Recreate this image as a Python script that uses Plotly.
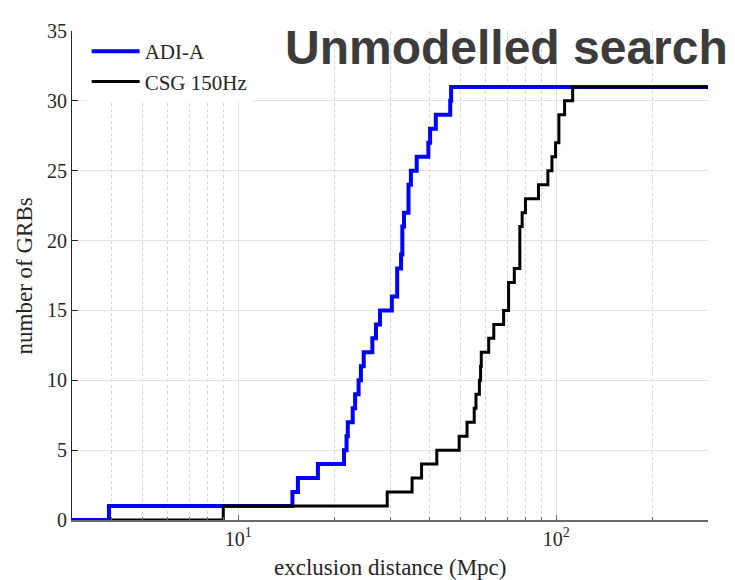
import plotly.graph_objects as go

# ADI-A cumulative steps (exclusion distance in Mpc, number of GRBs)
adi_x = [3.0, 3.92, 14.8, 15.4, 17.8, 21.5, 21.9, 22.1, 22.9, 23.3, 23.9, 24.3, 24.8,
         26.4, 27.1, 27.9, 30.4, 31.6, 32.5, 32.8, 33.2, 34.3, 34.9, 36.4, 39.6,
         40.1, 41.8, 46.4, 46.7, 300]
adi_y = [0, 1, 2, 3, 4, 5, 6, 7, 8, 9, 10, 11, 12, 13, 14, 15, 16, 18, 19, 21, 22,
         24, 25, 26, 27, 28, 29, 30, 31, 31]

# CSG 150Hz cumulative steps
csg_x = [3.92, 8.97, 29.4, 35.2, 37.7, 42.1, 49.5, 52.4, 55.2, 55.9, 57.3, 57.8, 58.1,
         61.3, 63.6, 68.3, 70.8, 73.8, 76.8, 78.1, 80.0, 87.9, 94.1, 96.9, 99.5,
         101.9, 106.2, 112.6, 300]
csg_y = [0, 1, 2, 3, 4, 5, 6, 7, 8, 9, 10, 11, 12, 13, 14, 15, 17, 18, 21, 22, 23,
         24, 25, 26, 27, 29, 30, 31, 31]

x_tickvals = [10, 100]
x_ticktext = ["10<sup>1</sup>", "10<sup>2</sup>"]
y_tickvals = [0, 5, 10, 15, 20, 25, 30, 35]

serif = "Liberation Serif"

fig = go.Figure()
fig.add_trace(go.Scatter(x=adi_x, y=adi_y, mode="lines", name="ADI-A",
                         line=dict(color="#0000ff", width=4, shape="hv")))
fig.add_trace(go.Scatter(x=csg_x, y=csg_y, mode="lines", name="CSG 150Hz",
                         line=dict(color="#000000", width=3, shape="hv")))

fig.update_layout(
    width=727, height=572,
    margin=dict(l=64, r=27, t=12, b=60),
    paper_bgcolor="white", plot_bgcolor="white",
    font=dict(family=serif, size=20, color="#262626"),
    showlegend=True,
    legend=dict(x=0.023, y=1.0, xanchor="left", yanchor="top",
                bgcolor="white", borderwidth=0, font=dict(size=21, color="#262626"),
                itemwidth=48, tracegroupgap=0),
    xaxis=dict(type="log", range=[0.4771, 2.4771],
               tickvals=x_tickvals, ticktext=x_ticktext,
               ticks="inside", ticklen=5, tickcolor="#6a6a6a",
               showline=True, linecolor="#6a6a6a", linewidth=1.5,
               showgrid=True, gridcolor="#e3e3e3", gridwidth=1,
               minor=dict(dtick="D1", ticks="inside", ticklen=3, tickcolor="#6a6a6a",
                          showgrid=True, gridcolor="#d4d4d4", griddash="dot", gridwidth=1),
               zeroline=False, tickfont=dict(size=20)),
    yaxis=dict(range=[0, 35], tickvals=y_tickvals,
               ticks="inside", ticklen=6, tickcolor="#262626",
               showline=True, linecolor="#262626", linewidth=1.2,
               showgrid=True, gridcolor="#e3e3e3", gridwidth=1,
               zeroline=False, tickfont=dict(size=20)),
    annotations=[
        dict(text="Unmodelled search", xref="paper", yref="paper",
             x=1.0346, y=0.966, xanchor="right", yanchor="middle", showarrow=False,
             font=dict(family="Liberation Sans", size=48, color="#3c3c3c", weight="bold")),
        dict(text="exclusion distance (Mpc)", xref="paper", yref="paper",
             x=0.5, y=-0.098, xanchor="center", yanchor="middle", showarrow=False,
             font=dict(family=serif, size=23, color="#262626")),
        dict(text="number of GRBs", xref="paper", yref="paper",
             x=-0.074, y=0.5, xanchor="center", yanchor="middle", showarrow=False,
             textangle=-90, font=dict(family=serif, size=23, color="#262626")),
    ],
)

fig.write_html("out.html")
